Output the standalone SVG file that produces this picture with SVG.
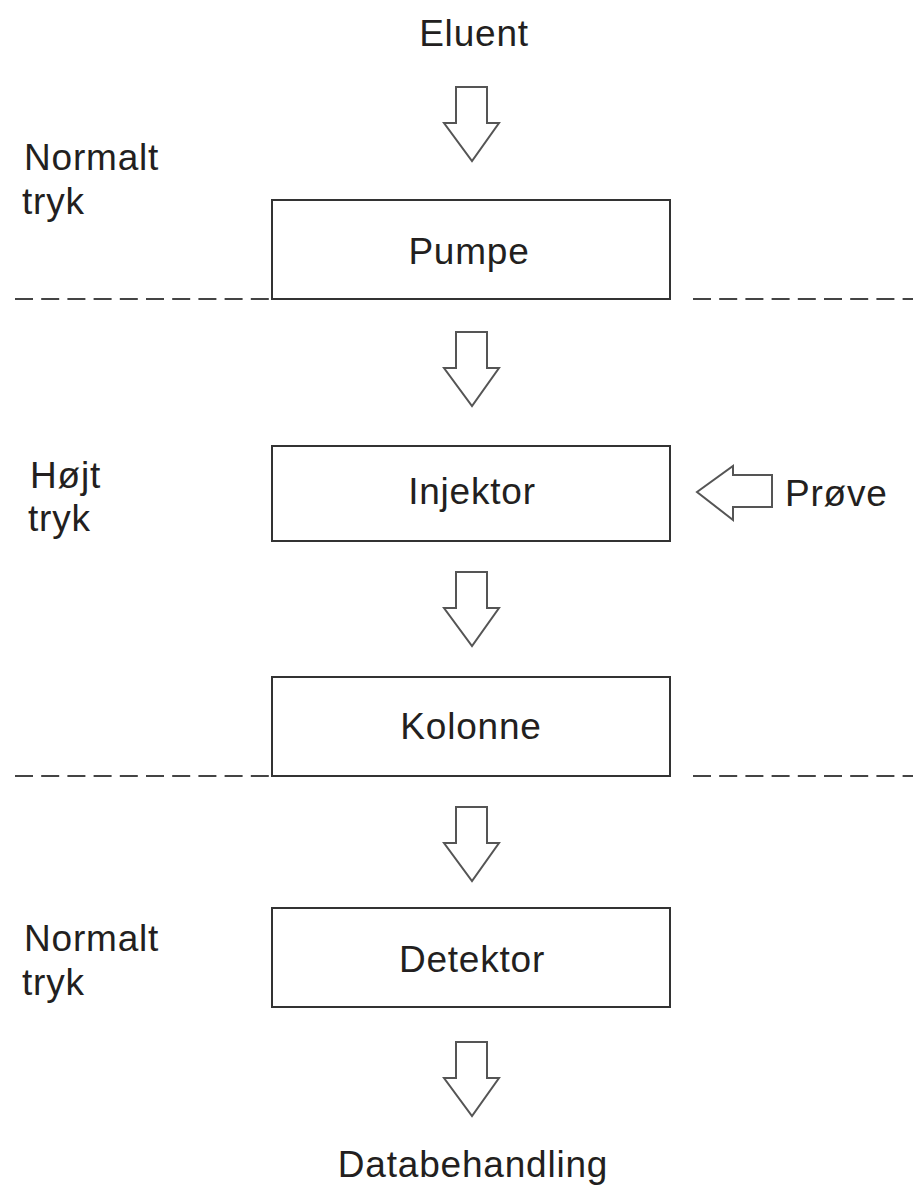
<svg xmlns="http://www.w3.org/2000/svg" width="913" height="1188" viewBox="0 0 913 1188">
  <defs>
    <!-- hollow downward block arrow, origin at top-left of shaft -->
    <path id="downArrow" d="M0,0 H31 V36 H43 L16,74 L-12,36 H0 Z"/>
  </defs>
  <style>
    text { font-family: "Liberation Sans", Arial, sans-serif; font-size: 37px; letter-spacing: 0.8px; fill: #231f20; }
    .c { text-anchor: middle; }
    .box { fill: #ffffff; stroke: #333333; stroke-width: 2; }
    .arrow { fill: #ffffff; stroke: #555555; stroke-width: 2; stroke-linejoin: miter; }
    .sep { stroke: #444444; stroke-width: 2; stroke-dasharray: 18 8.2; fill: none; }
  </style>

  <rect width="913" height="1188" fill="#ffffff"/>

  <!-- pressure zone separators -->
  <g id="separators">
    <line class="sep" x1="15" y1="299" x2="272" y2="299"/>
    <line class="sep" x1="693" y1="299" x2="913" y2="299"/>
    <line class="sep" x1="15" y1="776" x2="272" y2="776"/>
    <line class="sep" x1="693" y1="776" x2="913" y2="776"/>
  </g>

  <!-- zone labels -->
  <g id="zone-normal-top">
    <text x="24" y="170">Normalt</text>
    <text x="22" y="214">tryk</text>
  </g>
  <g id="zone-high">
    <text x="30" y="488">Højt</text>
    <text x="28" y="531">tryk</text>
  </g>
  <g id="zone-normal-bottom">
    <text x="24" y="951">Normalt</text>
    <text x="22" y="995">tryk</text>
  </g>

  <!-- flow connectors -->
  <g id="connectors">
    <use href="#downArrow" class="arrow" x="456" y="87"/>
    <use href="#downArrow" class="arrow" x="456" y="332"/>
    <use href="#downArrow" class="arrow" x="456" y="572"/>
    <use href="#downArrow" class="arrow" x="456" y="807"/>
    <use href="#downArrow" class="arrow" x="456" y="1042"/>
    <path class="arrow" d="M772,475 V507 H733 V520 L697,492 L733,466 V475 Z"/>
  </g>

  <g id="eluent">
    <text class="c" x="474" y="46">Eluent</text>
  </g>

  <g id="pumpe">
    <rect class="box" x="272" y="200" width="398" height="99"/>
    <text class="c" x="469" y="264">Pumpe</text>
  </g>

  <g id="injektor">
    <rect class="box" x="272" y="446" width="398" height="95"/>
    <text class="c" x="472" y="504">Injektor</text>
  </g>

  <g id="proeve">
    <text x="785" y="506">Prøve</text>
  </g>

  <g id="kolonne">
    <rect class="box" x="272" y="677" width="398" height="99"/>
    <text class="c" x="471" y="739">Kolonne</text>
  </g>

  <g id="detektor">
    <rect class="box" x="272" y="908" width="398" height="99"/>
    <text class="c" x="472" y="972">Detektor</text>
  </g>

  <g id="databehandling">
    <text class="c" x="473" y="1177">Databehandling</text>
  </g>
</svg>
